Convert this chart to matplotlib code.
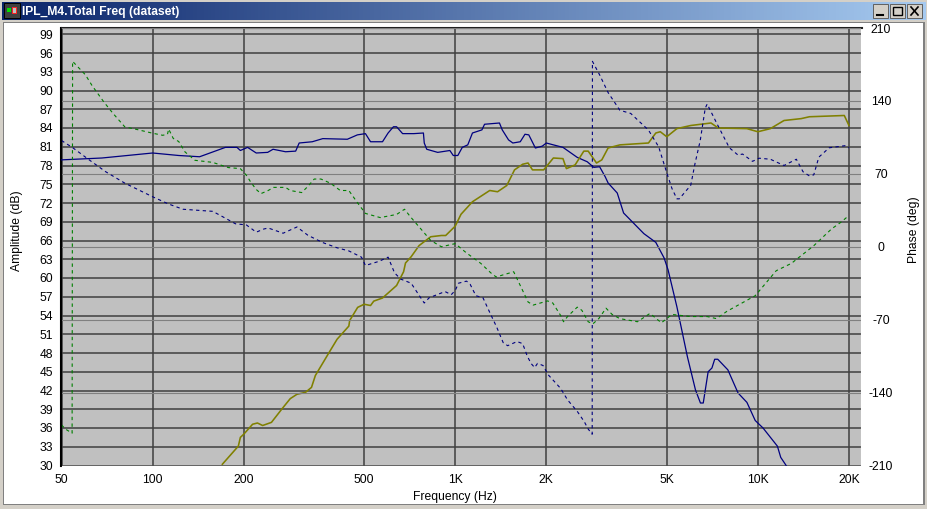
# IPL_M4 total frequency response window: amplitude and phase of two datasets

import numpy as np
import matplotlib
matplotlib.use("Agg")
import matplotlib.pyplot as plt
from matplotlib.patches import Rectangle

plt.rcParams['font.family'] = ['Liberation Sans', 'DejaVu Sans']

#---------------------- DATA ------------------------#

db_ticks = [30, 33, 36, 39, 42, 45, 48, 51, 54, 57, 60, 63, 66, 69, 72, 75, 78, 81, 84, 87, 90, 93, 96, 99]
phase_ticks = [-210, -140, -70, 0, 70, 140, 210]
freq_ticks = [50, 100, 200, 500, 1000, 2000, 5000, 10000, 20000]
freq_labels = ["50", "100", "200", "500", "1K", "2K", "5K", "10K", "20K"]

# solid blue, amplitude
amp1_f = [50, 68, 100, 122, 143, 174, 190, 195, 206, 220, 240, 250, 275, 297, 305, 337, 365, 440, 475, 505,
          525, 575, 600, 625, 640, 670, 730, 785, 790, 805, 875, 960, 985, 1020, 1055, 1100, 1140, 1225, 1250,
          1400, 1430, 1500, 1550, 1640, 1700, 1750, 1840, 1940, 2000, 2110, 2270, 2530, 2730, 2870, 3000, 3130,
          3200, 3430, 3600, 4200, 4600, 4900, 5050, 5400, 5850, 6220, 6460, 6600, 6850, 7050, 7200, 7370, 7960,
          8600, 9200, 9800, 10400, 11600, 11900, 12400]
amp1_db = [78.9, 79.2, 80.0, 79.6, 79.4, 80.9, 80.9, 80.4, 80.9, 80.0, 80.1, 80.6, 80.2, 80.3, 81.6, 81.8, 82.3,
           82.2, 82.9, 83.1, 81.8, 81.8, 83.2, 84.2, 84.2, 83.1, 83.1, 83.2, 81.6, 80.6, 80.1, 80.4, 79.6, 79.6,
           80.9, 81.3, 83.2, 83.7, 84.6, 84.8, 83.7, 82.1, 81.6, 81.8, 83.0, 82.9, 80.8, 81.1, 81.6, 81.3, 80.9,
           79.3, 78.6, 77.7, 77.8, 76.2, 75.2, 73.6, 70.4, 67.1, 65.7, 63.2, 61.3, 55.4, 47.4, 42.1, 40.0, 40.0,
           45.0, 45.6, 47.0, 47.0, 45.3, 41.6, 40.1, 37.2, 36.0, 33.1, 31.3, 30.0]

# solid olive, amplitude
amp2_f = [170, 192, 195, 200, 214, 222, 231, 247, 268, 285, 300, 320, 335, 345, 381, 407, 445, 448, 476, 500,
          525, 538, 575, 640, 675, 685, 715, 760, 830, 900, 930, 1000, 1045, 1140, 1300, 1380, 1480, 1570, 1670,
          1740, 1800, 1960, 2110, 2270, 2330, 2490, 2660, 2750, 2930, 3050, 3200, 3500, 4350, 4600, 4760, 5000,
          5400, 6000, 7000, 7400, 9200, 10000, 11000, 12200, 13900, 14800, 19300, 20000]
amp2_db = [30.2, 33.1, 34.5, 35.0, 36.6, 36.8, 36.4, 36.9, 39.1, 40.7, 41.4, 41.7, 42.5, 44.4, 47.9, 50.2, 52.3,
           53.2, 55.3, 55.8, 55.6, 56.3, 56.8, 58.8, 61.0, 62.4, 63.4, 65.2, 66.6, 66.8, 66.8, 68.3, 70.2, 72.2,
           74.0, 73.8, 74.8, 77.3, 78.2, 78.4, 77.3, 77.3, 79.2, 79.1, 77.5, 78.1, 80.3, 80.3, 78.4, 78.9, 80.8,
           81.3, 81.6, 83.2, 83.4, 82.6, 83.9, 84.4, 84.8, 84.0, 83.9, 83.4, 83.9, 85.2, 85.5, 85.8, 86.0, 84.4]

# dashed green, phase
ph2_f = [50, 51.5, 54.2, 54.4, 60, 63, 69, 74, 81, 87.5, 100, 108, 112, 113, 117, 122, 128, 138, 158, 178, 195,
         205, 211, 220, 228, 241, 251, 275, 285, 311, 326, 342, 360, 387, 417, 445, 476, 505, 565, 640, 680,
         710, 760, 830, 900, 1000, 1090, 1215, 1310, 1365, 1560, 1670, 1740, 1810, 2020, 2100, 2230, 2280, 2350,
         2530, 2620, 2750, 2850, 2980, 3150, 3300, 3500, 4000, 4400, 4800, 5200, 6000, 6800, 7300, 7900, 9800,
         11500, 12900, 15300, 17500, 18900, 19800]
ph2_deg = [-171, -175, -179, 178, 165, 155, 139, 128, 115, 113, 109, 107, 108, 113, 104, 101, 91, 83, 81, 76, 75,
           68, 62, 55, 51, 54, 57, 57, 54, 52, 58, 65, 65, 61, 54, 54, 42, 32, 28, 31, 36,
           29, 19, 6, 0, 3, -6, -16, -25, -29, -24, -42, -53, -56, -52, -54, -66, -72, -67,
           -58, -61, -72, -74, -69, -59, -65, -69, -72, -64, -73, -65, -67, -67, -69, -62, -47,
           -23, -16, 1, 17, 24, 29]

# dashed blue, phase
ph1_f = [50, 52.5, 54.5, 62, 70, 81, 100, 113, 126, 158, 170, 188, 204, 220, 233, 241, 270, 300, 326, 365, 407,
         445, 490, 505, 560, 600, 630, 660, 715, 765, 790, 820, 925, 970, 1000, 1025, 1090, 1120, 1170, 1235,
         1300, 1370, 1440, 1490, 1600, 1670, 1730, 1780, 1830, 1870, 1950, 2030, 2230, 2350, 2530, 2670, 2750,
         2835, 2840, 3000, 3200, 3500, 3800, 4350, 4700, 5000, 5200, 5400, 5500, 6000, 6200, 6450, 6700, 6800,
         7300, 8050, 8600, 8900, 9600, 10100, 11000, 12200, 13400, 14100, 14800, 15300, 15900, 17200, 19400, 20000]
ph1_deg = [102, 98, 95, 83, 72, 61, 48, 41, 36, 34, 29, 22, 21, 14, 17, 18, 13, 19, 11, 4, -1,
           -4, -10, -18, -14, -10, -25, -31, -35, -48, -54, -49, -43, -46, -42, -35, -33, -36, -47, -49,
           -63, -77, -92, -95, -91, -93, -105, -112, -116, -112, -114, -123, -136, -147, -158, -168, -175,
           -180, 178, 165, 148, 131, 128, 112, 96, 71, 56, 46, 46, 59, 80, 102, 133, 137,
           119, 95, 88, 89, 82, 85, 84, 78, 84, 72, 68, 69, 86, 95, 97, 95]

#---------------------- FIGURE ------------------------#

W, H = 928, 509
fig = plt.figure(figsize=(W / 100, H / 100), dpi=100, facecolor="#d4d0c8")

# window chrome in pixel coordinates
win = fig.add_axes([0, 0, 1, 1])
win.axis("off")
gradient = np.linspace(0, 1, 256).reshape(1, -1)
cmap = matplotlib.colors.LinearSegmentedColormap.from_list("title", ["#0a246a", "#a6caf0"])
win.imshow(gradient, cmap=cmap, extent=[2, W - 2, 20, 2], aspect="auto")
win.set_xlim(0, W)
win.set_ylim(H, 0)
win.add_patch(Rectangle((3, 22), W - 6, H - 26, fc="#808080", ec="none"))
win.add_patch(Rectangle((4, 23), W - 9, H - 28, fc="white", ec="none"))
win.text(22, 11.5, "IPL_M4.Total Freq (dataset)", color="white", fontsize=8.75, fontweight="bold", va="center")

# icon and window buttons
win.add_patch(Rectangle((4, 3), 16, 15, fc="#404040", ec="black", lw=0.7))
win.add_patch(Rectangle((7, 8), 4, 4, fc="#00e000", ec="none"))
win.add_patch(Rectangle((12, 7), 4, 6, fc="#c0c0c0", ec="#ff2020", lw=0.7))
for bx in [873, 890, 907]:
    win.add_patch(Rectangle((bx, 4), 15, 14, fc="#d4d0c8", ec="#606060", lw=0.7))
win.plot([877, 883], [15, 15], color="black", lw=1.5)
win.add_patch(Rectangle((893, 7), 9, 8, fc="none", ec="black", lw=1))
win.plot([911, 918], [7, 15], color="black", lw=1.2)
win.plot([911, 918], [15, 7], color="black", lw=1.2)

# plot area
left, right, top, bottom = 61.5, 861.5, 28, 465.5
ax = fig.add_axes([left / W, 1 - bottom / H, (right - left) / W, (bottom - top) / H])
ax.set_facecolor("#c0c0c0")
ax.set_xscale("log")
ax.set_xlim(50, 22000)
ax.set_ylim(30, 100)
ax.set_yticks(db_ticks)
ax.set_yticklabels([str(v) for v in db_ticks], fontsize=8.7)
ax.set_xticks(freq_ticks)
ax.set_xticklabels(freq_labels, fontsize=8.7)
ax.minorticks_off()
ax.tick_params(axis="both", which="both", length=0, pad=6)
ax.grid(True, color="#404040", lw=1.1)
ax.set_axisbelow(True)
ax.set_xlabel("Frequency (Hz)", fontsize=8.7)
ax.xaxis.set_label_coords(0.492, -0.059)
ax.set_ylabel("Amplitude (dB)", fontsize=8.7)
ax.yaxis.set_label_coords(-0.048, 0.536)
ax.spines["left"].set_color("black")
ax.spines["left"].set_linewidth(1.5)
ax.spines["top"].set_color("#202020")
ax.spines["top"].set_linewidth(1.5)
ax.spines["right"].set_color("white")
ax.spines["bottom"].set_color("white")

ph = ax.twinx()
ph.set_ylim(-210, 210)
ph.set_yticks(phase_ticks)
ph.set_yticklabels([str(v) for v in phase_ticks], fontsize=8.7, ha="center")
ph.tick_params(axis="y", length=0, pad=14)
ph.grid(True, color="#808080", lw=0.8)
ph.set_ylabel("Phase (deg)", fontsize=8.7)
ph.yaxis.set_label_coords(1.0585, 0.54)
for s in ph.spines.values():
    s.set_visible(False)

ax.plot(amp1_f, amp1_db, color="#000080", lw=0.9, zorder=3)
ax.plot(amp2_f, amp2_db, color="#808000", lw=1.15, zorder=3)
ph.plot(ph2_f, ph2_deg, color="#008000", lw=0.8, ls=(0, (3, 3)), zorder=3)
ph.plot(ph1_f, ph1_deg, color="#000080", lw=0.8, ls=(0, (3, 3)), zorder=3)

fig.savefig("out.png", dpi=100, facecolor=fig.get_facecolor())
